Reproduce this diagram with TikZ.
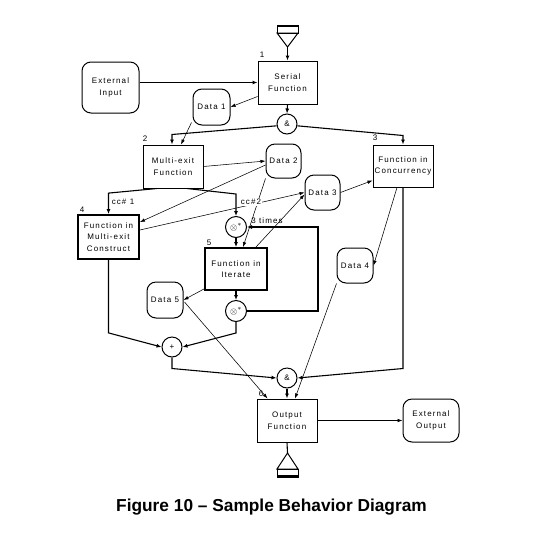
\documentclass[tikz,border=0pt]{standalone}
\usepackage{fontspec}
\setmainfont{Liberation Sans}
\newfontfamily\dfont[LetterSpace=14]{Liberation Sans}
\usetikzlibrary{calc,arrows.meta}
\begin{document}
\begin{tikzpicture}[x=1pt,y=-1pt,
  txt/.style={font=\dfont\fontsize{8}{11.5}\selectfont},
  fnbox/.style={txt,draw,line width=1pt,inner sep=0pt,align=center},
  boldbox/.style={fnbox,line width=1.8pt},
  databox/.style={txt,draw,line width=1pt,rounded corners=9pt,inner sep=0pt,align=center},
  junc/.style={txt,draw,circle,line width=1pt,minimum size=20pt,inner sep=0pt},
  num/.style={txt,inner sep=0pt},
  ctl/.style={line width=1.1pt,-{Latex[length=5pt,width=4pt]}},
  dat/.style={line width=0.55pt,-{Latex[length=5pt,width=3.5pt]}}]
\useasboundingbox (0,0) rectangle (553,544);
\fill[white] (0,0) rectangle (553,544);

% function boxes
\node[fnbox,minimum width=59pt,minimum height=43pt] (serial) at (287.5,82.5) {Serial\\Function};
\node[fnbox,minimum width=60pt,minimum height=43pt] (multi) at (173,166.5) {Multi-exit\\Function};
\node[fnbox,minimum width=60pt,minimum height=42pt] (conc) at (403,166) {Function in\\Concurrency};
\node[boldbox,minimum width=61pt,minimum height=44pt] (fmec) at (108.5,237) {Function in\\Multi-exit\\Construct};
\node[boldbox,minimum width=62pt,minimum height=42pt] (iter) at (236,269) {Function in\\Iterate};
\node[fnbox,minimum width=60pt,minimum height=43pt] (output) at (287,420.5) {Output\\Function};

% data / external items
\node[databox,minimum width=57pt,minimum height=51pt] (extin) at (110.5,87.5) {External\\Input};
\node[databox,minimum width=37pt,minimum height=36pt] (data1) at (211.5,107) {Data 1};
\node[databox,minimum width=35pt,minimum height=34pt] (data2) at (283.5,161) {Data 2};
\node[databox,minimum width=35pt,minimum height=35pt] (data3) at (322.5,192.5) {Data 3};
\node[databox,minimum width=36pt,minimum height=35pt] (data4) at (355,265.5) {Data 4};
\node[databox,minimum width=36pt,minimum height=36pt] (data5) at (165,300) {Data 5};
\node[databox,minimum width=56pt,minimum height=43pt] (extout) at (431,420.5) {External\\Output};

% junctions
\node[junc] (and1) at (287,124) {\&};
\node[junc] (and2) at (287,378) {\&};
\node[junc] (plus) at (172,347) {+};
\node[junc,minimum size=21pt] (xor1) at (236,227) {\fontsize{9.5}{10}\selectfont$\otimes^{*}$};
\node[junc,minimum size=21pt] (xor2) at (236,311) {\fontsize{9.5}{10}\selectfont$\otimes^{*}$};

% top triangle
\coordinate (tapex) at (287.5,47);
\draw[line width=1pt] (277,25) rectangle (298,33);
\draw[line width=2.5pt] (277,26) -- (298,26);
\draw[line width=1pt,line join=miter] (277,33) -- (298,33) -- (tapex) -- cycle;
\draw[ctl] (tapex) -- (serial.north);

% bottom triangle
\coordinate (bapex) at (287.5,453);
\draw[line width=1.1pt] (output.south) -- (bapex);
\draw[line width=1pt,line join=miter] (bapex) -- (298,469) -- (277,469) -- cycle;
\draw[line width=1pt] (277,469) rectangle (298,477);
\draw[line width=2pt] (277,476) -- (298,476);

% control flow
\draw[ctl,line width=1pt] (extin.east |- serial.west) -- (serial.west);
\draw[ctl] (serial.south) -- (and1.north);
\draw[ctl] (and1.190) -- ($(multi.north)+(-1,-10)$) -- ($(multi.north)+(-1,0)$);
\draw[ctl] (and1.350) -- ($(conc.north)+(0,-9)$) -- (conc.north);
\draw[ctl] ($(multi.south)+(-16,0)$) -- ($(fmec.north)+(0,-21)$) -- (fmec.north);
\draw[ctl] ($(multi.south)+(14,0)$) -- ($(xor1.north)+(0,-22)$) -- (xor1.north);
\draw[ctl] (xor1.south) -- (iter.north);
\draw[ctl] (iter.south) -- (xor2.north);
\draw[ctl] (xor2.east) -- ($(xor2.east)+(71,0)$) -- ($(xor1.east)+(71,0)$) -- (xor1.east);
\draw[ctl] (conc.south) -- ($(conc.south)+(0,181)$) -- (and2.east);
\draw[ctl] (fmec.south) -- ($(fmec.south)+(0,73)$) -- (plus.west);
\draw[ctl] (xor2.south) -- ($(xor2.south)+(0,11)$) -- (plus.east);
\draw[ctl] (plus.south) -- ($(plus.south)+(0,11)$) -- (and2.west);
\draw[ctl] (and2.south) -- (output.north);

% data flow
\draw[dat] ($(serial.south west)+(0,-8)$) -- (data1.east);
\draw[dat] ($(data1.south west)+(-1,-3)$) -- ($(multi.north)+(8,0)$);
\draw[dat] (multi.east) -- (data2.west);
\draw[dat] ($(data2.west)+(0,4)$) -- ($(fmec.north east)+(0,8)$);
\draw[dat] ($(fmec.east)+(0,-7)$) -- (data3.west);
\draw[dat] (data2.south west) -- ($(iter.north)+(7,0)$);
\draw[dat] ($(iter.north east)+(-12,0)$) -- ($(data3.west)+(0,2)$);
\draw[dat] (data3.east) -- ($(conc.south west)+(0,-7)$);
\draw[dat] ($(conc.south)+(-6,0)$) -- (data4.east);
\draw[dat] (data4.south west) -- ($(output.north)+(8,0)$);
\draw[dat] ($(iter.south west)+(0,-2)$) -- (data5.east);
\draw[dat] ($(data5.east)+(1,2)$) -- ($(output.north west)+(11,0)$);
\draw[dat] (output.east) -- (extout.west);

% labels
\node[num] (n1) at (262,55) {1};
\node[num] (n2) at (145,139) {2};
\node[num] (n3) at (375,138) {3};
\node[num] (n4) at (82,210) {4};
\node[num] (n5) at (209,243) {5};
\node[num] (n6) at (261,394) {6};
\node[num] (cc1) at (123,202) {cc\# 1};
\node[num,fill=white,inner sep=1pt] (cc2) at (251,202) {cc\#2};
\node[num] (times) at (267,221) {3 times};

% caption
\node[font=\fontsize{17.3}{20}\selectfont\bfseries] (cap) at (271.5,507) {Figure 10 – Sample Behavior Diagram};
\end{tikzpicture}
\end{document}
